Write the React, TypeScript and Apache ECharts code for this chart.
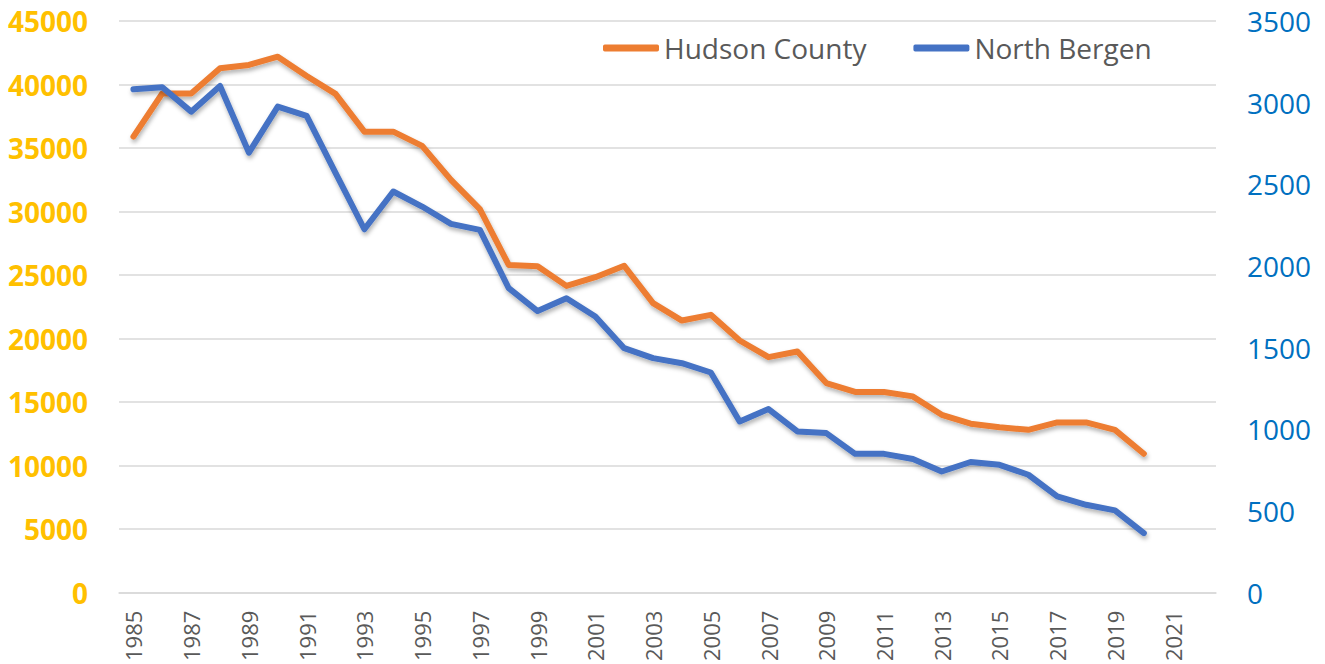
import React, { useEffect, useRef } from "react";
import * as echarts from "echarts";

const years: string[] = [];
for (let y = 1985; y <= 2022; y++) years.push(String(y));

const hudsonCounty = [
  35900, 39300, 39300, 41280, 41540, 42190, 40670, 39260, 36290, 36290,
  35170, 32490, 30190, 25800, 25700, 24150, 24830, 25730, 22790, 21420,
  21870, 19850, 18540, 18990, 16500, 15800, 15800, 15450, 14000, 13300,
  13030, 12820, 13400, 13400, 12820, 10940,
];

const northBergen = [
  3082, 3094, 2945, 3102, 2694, 2976, 2919, 2570, 2225, 2456,
  2364, 2258, 2221, 1864, 1724, 1803, 1691, 1497, 1436, 1405,
  1348, 1048, 1124, 987, 977, 850, 850, 818, 742, 800,
  783, 722, 589, 538, 504, 365,
];

const leftTicks = { min: 0, max: 45000, interval: 5000 };
const rightTicks = { min: 0, max: 3500, interval: 500 };

export default function App() {
  const ref = useRef<HTMLDivElement>(null);
  useEffect(() => {
    if (!ref.current) return;
    const chart = echarts.init(ref.current, null, { renderer: "svg" });
    const font = "'Open Sans', 'Liberation Sans', sans-serif";
    const shadow = {
      shadowColor: "rgba(0,0,0,0.3)",
      shadowBlur: 4,
      shadowOffsetX: 1,
      shadowOffsetY: 3,
    };
    const plain = (v: number) => String(v);
    chart.setOption({
      animation: false,
      backgroundColor: "#ffffff",
      textStyle: { fontFamily: font },
      grid: { left: 119, right: 109, top: 21, bottom: 71, containLabel: false },
      legend: {
        left: 598,
        top: 29,
        icon: "roundRect",
        itemWidth: 56,
        itemHeight: 7,
        itemGap: 47,
        textStyle: { fontSize: 28, color: "#595959", fontFamily: font },
        data: ["Hudson County", "North Bergen"],
      },
      xAxis: {
        type: "category",
        data: years,
        boundaryGap: true,
        axisLine: { show: true, lineStyle: { color: "#d9d9d9", width: 1.5 } },
        axisTick: { show: false },
        axisLabel: {
          interval: 1,
          rotate: 90,
          fontSize: 22,
          color: "#595959",
          margin: 18,
          fontFamily: font,
        },
        splitLine: { show: false },
      },
      yAxis: [
        {
          type: "value",
          min: leftTicks.min,
          max: leftTicks.max,
          interval: leftTicks.interval,
          axisLine: { show: false },
          axisTick: { show: false },
          axisLabel: {
            fontSize: 28,
            fontWeight: "bold",
            color: "#FFC000",
            margin: 31,
            fontFamily: font,
            formatter: plain,
          },
          splitLine: { show: true, lineStyle: { color: "#d9d9d9", width: 1.5 } },
        },
        {
          type: "value",
          min: rightTicks.min,
          max: rightTicks.max,
          interval: rightTicks.interval,
          axisLine: { show: false },
          axisTick: { show: false },
          axisLabel: {
            fontSize: 28,
            color: "#0070C0",
            margin: 31,
            fontFamily: font,
            formatter: plain,
          },
          splitLine: { show: false },
        },
      ],
      series: [
        {
          name: "Hudson County",
          type: "line",
          yAxisIndex: 0,
          data: hudsonCounty,
          symbol: "none",
          color: "#ED7D31",
          lineStyle: { color: "#ED7D31", width: 6, cap: "round", join: "round", ...shadow },
          z: 2,
        },
        {
          name: "North Bergen",
          type: "line",
          yAxisIndex: 1,
          data: northBergen,
          symbol: "none",
          color: "#4472C4",
          lineStyle: { color: "#4472C4", width: 6, cap: "round", join: "round", ...shadow },
          z: 3,
        },
      ],
    });
    return () => chart.dispose();
  }, []);
  return (
    <div
      ref={ref}
      style={{ position: "fixed", left: 0, top: 0, width: 1325, height: 664 }}
    />
  );
}
